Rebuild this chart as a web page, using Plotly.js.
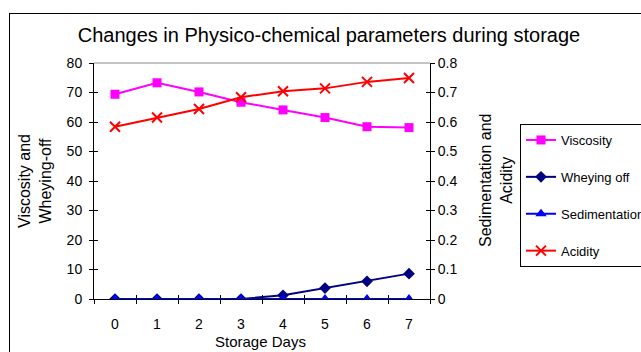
<!DOCTYPE html>
<html><head><meta charset="utf-8">
<script src="https://cdn.plot.ly/plotly-3.0.1.min.js"></script>
<style>html,body{margin:0;padding:0;background:#fff;}#wrap{position:relative;width:641px;height:352px;overflow:hidden;}
#chart{width:641px;height:352px;}
#frame{position:absolute;left:9px;top:13px;width:700px;height:400px;border:1px solid #000;pointer-events:none;}</style>
</head><body><div id="wrap"><div id="chart"></div><div id="frame"></div></div>
<script>
const days = ['0','1','2','3','4','5','6','7'];
const viscosity = [69.4, 73.3, 70.2, 66.7, 64.1, 61.5, 58.4, 58.1];
const wheyingOff = [0, 0, 0, 0, 1.25, 3.7, 6.0, 8.6];
const sedimentation = [0, 0, 0, 0, 0, 0, 0, 0];
const acidity = [0.584, 0.615, 0.644, 0.684, 0.704, 0.714, 0.736, 0.749];

const F = 'Arial, "Liberation Sans", sans-serif';
const PL = 94, PR = 430, PT = 63, PB = 299, W = 641, H = 352;
const pw = PR - PL, ph = PB - PT;
const traces = [
 {x: days, y: viscosity, name: 'Viscosity', mode: 'lines+markers', xaxis: 'x', yaxis: 'y', legendgroup: 'a',
  line: {color: '#FF00FF', width: 2}, marker: {symbol: 'square', size: 9, color: '#FF00FF'}},
 {x: days, y: wheyingOff, name: 'Wheying off', mode: 'lines+markers', xaxis: 'x', yaxis: 'y', legendgroup: 'b',
  line: {color: '#000080', width: 2}, marker: {symbol: 'diamond', size: 9, color: '#000080'}},
 {x: days, y: sedimentation, name: 'Sedimentation', mode: 'lines+markers', xaxis: 'x', yaxis: 'y2', legendgroup: 'c',
  line: {color: '#0000FF', width: 2}, marker: {symbol: 'triangle-up', size: 10, color: '#0000FF'}},
 {x: days, y: acidity, name: 'Acidity', mode: 'lines+markers', xaxis: 'x', yaxis: 'y2', legendgroup: 'd',
  line: {color: '#FF0000', width: 2}, marker: {symbol: 'x-thin-open', size: 10, color: '#FF0000', line: {color: '#FF0000', width: 2}}},
 // helper traces so that the inner-tick axes are drawn
 {x: [], y: [], xaxis: 'x2', yaxis: 'y3', showlegend: false, hoverinfo: 'skip'},
 {x: [], y: [], xaxis: 'x2', yaxis: 'y4', showlegend: false, hoverinfo: 'skip'}
];
const baseAx = {showgrid: false, zeroline: false, tickcolor: '#000', ticklen: 4, tickwidth: 1,
  showline: true, linecolor: '#000', linewidth: 1, tickfont: {family: F, size: 14, color: '#000'}};
const layout = {
 width: W, height: H,
 margin: {l: PL, r: W - PR, t: PT, b: H - PB, autoexpand: false},
 paper_bgcolor: '#fff', plot_bgcolor: '#fff',
 font: {family: F, size: 14, color: '#000'},
 title: {text: 'Changes in Physico-chemical parameters during storage', font: {family: F, size: 20, color: '#000'},
  x: 329 / W, xanchor: 'center', y: 1 - 35 / H, yanchor: 'middle'},
 xaxis: Object.assign({}, baseAx, {type: 'category', categoryorder: 'array', categoryarray: days,
  tickson: 'boundaries', ticks: 'outside', range: [-0.5, 7.5], ticklabelstandoff: 12}),
 xaxis2: Object.assign({}, baseAx, {type: 'category', categoryorder: 'array', categoryarray: days,
  tickson: 'boundaries', ticks: 'inside', range: [-0.5, 7.5], overlaying: 'x', anchor: 'y3', side: 'bottom',
  showticklabels: false}),
 yaxis: Object.assign({}, baseAx, {range: [0, 80], dtick: 10, ticks: 'outside', ticklabelstandoff: 4}),
 yaxis2: Object.assign({}, baseAx, {range: [0, 0.8], dtick: 0.1, overlaying: 'y', side: 'right', ticks: 'outside'}),
 yaxis3: Object.assign({}, baseAx, {range: [0, 80], dtick: 10, overlaying: 'y', side: 'left', ticks: 'inside',
  showticklabels: false, anchor: 'x2'}),
 yaxis4: Object.assign({}, baseAx, {range: [0, 0.8], dtick: 0.1, overlaying: 'y', side: 'right', ticks: 'inside',
  showticklabels: false, anchor: 'x2'}),
 showlegend: true,
 legend: {x: (520 - PL) / pw, xanchor: 'left', y: 1 - (124 - PT) / ph, yanchor: 'top',
  bordercolor: '#000', borderwidth: 1, bgcolor: '#fff', font: {family: F, size: 13, color: '#000'},
  tracegroupgap: 17, itemwidth: 30},
 shapes: [
  {type: 'line', xref: 'paper', yref: 'paper', x0: 0, x1: 1, y0: 1, y1: 1, line: {color: '#888', width: 1}}
 ],
 annotations: [
  {text: 'Viscosity and<br>Wheying-off', xref: 'paper', yref: 'paper', x: (35 - PL) / pw, y: 0.5,
   xanchor: 'center', yanchor: 'middle', textangle: -90, showarrow: false, font: {family: F, size: 16}},
  {text: 'Sedimentation and<br>Acidity', xref: 'paper', yref: 'paper', x: (496 - PL) / pw, y: 0.5,
   xanchor: 'center', yanchor: 'middle', textangle: -90, showarrow: false, font: {family: F, size: 16}},
  {text: 'Storage Days', xref: 'paper', yref: 'paper', x: (260 - PL) / pw, y: -(341 - PB) / ph,
   xanchor: 'center', yanchor: 'middle', showarrow: false, font: {family: F, size: 15}}
 ]
};
Plotly.newPlot('chart', traces, layout, {displayModeBar: false, staticPlot: true});
</script></body></html>
